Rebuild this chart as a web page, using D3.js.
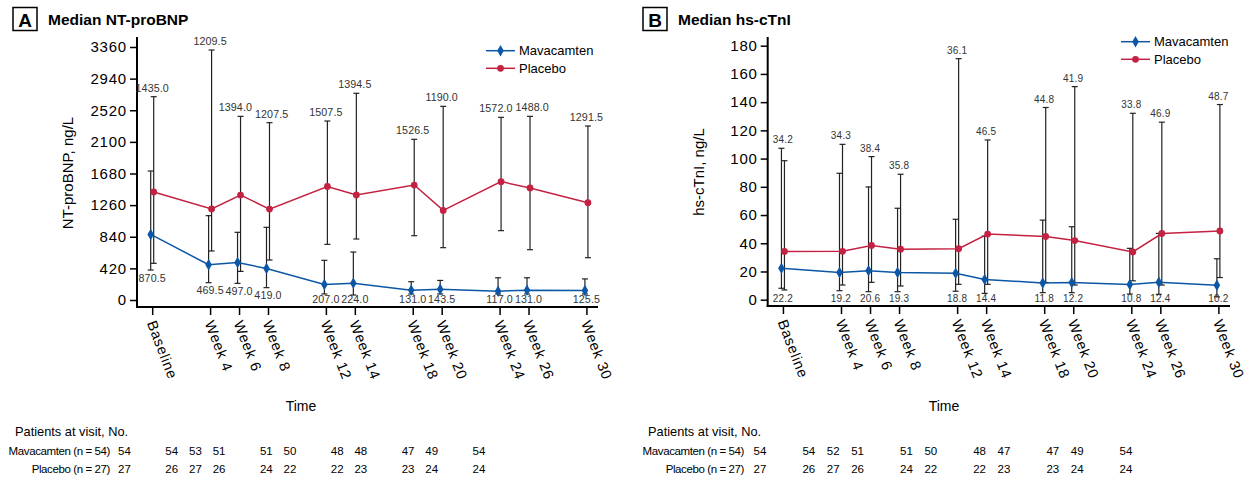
<!DOCTYPE html>
<html><head><meta charset="utf-8">
<script src="https://cdn.jsdelivr.net/npm/d3@7"></script>
<style>
body{margin:0;background:#fff;}
svg{display:block;font-family:"Liberation Sans",Arial,sans-serif;}
</style></head><body>
<svg id="c" width="1248" height="483"></svg>
<script>
// ---------- DATA ----------
const weeks = [0, 4, 6, 8, 12, 14, 18, 20, 24, 26, 30];
const weekLabels = ["Baseline", "Week 4", "Week 6", "Week 8", "Week 12", "Week 14", "Week 18", "Week 20", "Week 24", "Week 26", "Week 30"];
const seriesNames = ["Mavacamten", "Placebo"];

// Panel A: NT-proBNP (ng/L)
const ntYTicks = [0, 420, 840, 1260, 1680, 2100, 2520, 2940, 3360];
const ntMavaMedian = [870.5, 469.5, 497.0, 419.0, 207.0, 224.0, 131.0, 143.5, 117.0, 131.0, 125.5];
const ntMavaHigh   = [1713, 1120, 899, 965, 527, 637, 243, 260, 295, 295, 280];
const ntMavaLow    = [398, 230, 221, 164, 80, 66, 80, 80, 80, 80, 80];
const ntPlacMedian = [1435.0, 1209.5, 1394.0, 1207.5, 1507.5, 1394.5, 1526.5, 1190.0, 1572.0, 1488.0, 1291.5];
const ntPlacHigh   = [2700, 3320, 2439, 2355, 2377, 2745, 2134, 2572, 2426, 2439, 2311];
const ntPlacLow    = [487, 651, 380, 531, 739, 810, 854, 695, 921, 668, 562];
const ntMavaN = [54, 54, 53, 51, 51, 50, 48, 48, 47, 49, 54];
const ntPlacN = [27, 26, 27, 26, 24, 22, 22, 23, 23, 24, 24];

// Panel B: hs-cTnI (ng/L)
const tnYTicks = [0, 20, 40, 60, 80, 100, 120, 140, 160, 180];
const tnMavaMedian = [22.2, 19.2, 20.6, 19.3, 18.8, 14.4, 11.8, 12.2, 10.8, 12.4, 10.2];
const tnMavaHigh   = [107.3, 89.6, 79.9, 64.8, 57, 45, 56.4, 51.7, 36.4, 47, 29];
const tnMavaLow    = [8.1, 6.4, 5.7, 5.7, 6, 4.5, 5, 5, 4, 3.8, 2];
const tnPlacMedian = [34.2, 34.3, 38.4, 35.8, 36.1, 46.5, 44.8, 41.9, 33.8, 46.9, 48.7];
const tnPlacHigh   = [98.5, 110.1, 101.4, 88.9, 170.8, 113.2, 136.2, 151, 132.1, 125.8, 138.3];
const tnPlacLow    = [6.9, 10.4, 12.3, 9.7, 10.9, 10.9, 12.2, 10.4, 13.4, 10.4, 15.7];
const tnMavaN = [54, 54, 52, 51, 51, 50, 48, 47, 47, 49, 54];
const tnPlacN = [27, 26, 27, 26, 24, 22, 22, 23, 23, 24, 24];

// ---------- DRAW ----------
const svg = d3.select("#c");
const BLUE = "#0b57a6", RED = "#c32242", BAR = "#222";

function separate(nodes, gap) {
  // push apart neighbouring labels on the same row if they collide
  const items = nodes.map(n => ({n, x: +n.getAttribute("x"), y: +n.getAttribute("y"), w: n.getComputedTextLength()}));
  items.sort((a, b) => a.x - b.x);
  for (let pass = 0; pass < 4; pass++) {
    for (let i = 0; i < items.length - 1; i++) {
      const a = items[i], b = items[i + 1];
      if (Math.abs(a.y - b.y) > 9) continue;
      const over = (a.x + a.w / 2 + gap) - (b.x - b.w / 2);
      if (over > 0) { a.x -= over / 2; b.x += over / 2; }
    }
  }
  items.forEach(it => it.n.setAttribute("x", it.x));
}

function panel(p) {
  const g = svg.append("g");
  const x = d3.scaleLinear().domain([-1.05, 30.8]).range(p.xr);
  const y = d3.scaleLinear().domain([0, p.yMax]).range(p.yr);
  const xt = d3.scaleLinear().domain([0, 30]).range(p.tableRange);

  // letter box + title
  g.append("rect").attr("x", p.boxX).attr("y", 7.5).attr("width", 24).attr("height", 23)
    .attr("fill", "none").attr("stroke", "#000").attr("stroke-width", 1.5);
  g.append("text").attr("x", p.boxX + 12).attr("y", 26.5).attr("text-anchor", "middle")
    .attr("font-weight", "bold").attr("font-size", 19).text(p.letter);
  g.append("text").attr("x", p.boxX + 35).attr("y", 25).attr("font-weight", "bold")
    .attr("font-size", 15.5).text(p.title);

  // y axis
  const ya = g.append("g").attr("transform", `translate(${p.xr[0]},0)`)
    .call(d3.axisLeft(y).tickValues(p.yTicks).tickSize(7).tickPadding(3).tickFormat(d3.format("d")));
  ya.attr("font-size", null).attr("font-family", null);
  ya.select(".domain").remove();
  ya.selectAll(".tick line").attr("stroke", "#000").attr("stroke-width", 1.5);
  ya.selectAll(".tick text").attr("font-size", 15).attr("letter-spacing", 0.8).attr("fill", "#000");

  // x axis
  const xa = g.append("g").attr("transform", `translate(0,${p.axisY})`)
    .call(d3.axisBottom(x).tickValues(weeks).tickSize(8).tickFormat((d, i) => weekLabels[i]));
  xa.attr("font-size", null).attr("font-family", null);
  xa.select(".domain").remove();
  xa.selectAll(".tick line").attr("stroke", "#000").attr("stroke-width", 1.5);
  xa.selectAll(".tick text").attr("x", 0).attr("y", 0).attr("dy", 0)
    .attr("text-anchor", "start").attr("transform", "translate(-6,16) rotate(69)")
    .attr("font-size", 14.5).attr("letter-spacing", 0.7).attr("fill", "#000");

  // axis lines
  g.append("line").attr("x1", p.xr[0]).attr("x2", p.xr[0]).attr("y1", p.axisTop).attr("y2", p.axisY + 1)
    .attr("stroke", "#000").attr("stroke-width", 2);
  g.append("line").attr("x1", p.xr[0] - 1).attr("x2", p.xr[1]).attr("y1", p.axisY).attr("y2", p.axisY)
    .attr("stroke", "#000").attr("stroke-width", 2);

  // y axis title
  g.append("text").attr("transform", `translate(${p.yTitleX},${p.yTitleY}) rotate(-90)`)
    .attr("text-anchor", "middle").attr("font-size", 15).text(p.yTitle);

  const series = [
    {med: p.mMed, hi: p.mHi, lo: p.mLo, color: BLUE, off: -1.5, shape: "diamond"},
    {med: p.pMed, hi: p.pHi, lo: p.pLo, color: RED, off: 1.5, shape: "circle"}
  ];

  // error bars
  series.forEach(s => {
    const eb = g.append("g").attr("stroke", BAR).attr("stroke-width", 1.2);
    weeks.forEach((w, i) => {
      const cx = x(w) + s.off;
      eb.append("line").attr("x1", cx).attr("x2", cx).attr("y1", y(s.lo[i])).attr("y2", y(s.hi[i]));
      [s.lo[i], s.hi[i]].forEach(v => {
        eb.append("line").attr("x1", cx - 3).attr("x2", cx + 3).attr("y1", y(v)).attr("y2", y(v));
      });
    });
  });

  // lines + markers
  series.forEach(s => {
    const line = d3.line().x((d, i) => x(weeks[i]) + s.off).y(d => y(d));
    g.append("path").datum(s.med).attr("d", line).attr("fill", "none")
      .attr("stroke", s.color).attr("stroke-width", 1.5);
    s.med.forEach((v, i) => {
      const cx = x(weeks[i]) + s.off, cy = y(v);
      if (s.shape === "diamond") {
        g.append("path").attr("d", d3.symbol(d3.symbolDiamond, 38)())
          .attr("transform", `translate(${cx},${cy})`).attr("fill", s.color);
      } else {
        g.append("circle").attr("cx", cx).attr("cy", cy).attr("r", 3.4).attr("fill", s.color);
      }
    });
  });

  // value labels
  const topNodes = [], botNodes = [];
  weeks.forEach((w, i) => {
    const top = y(Math.max(p.mHi[i], p.pHi[i]));
    topNodes.push(g.append("text").attr("x", x(w)).attr("y", top - 5).attr("text-anchor", "middle")
      .attr("font-size", p.labFont).attr("letter-spacing", p.labSp).attr("fill", "#333")
      .text(p.pMed[i].toFixed(1)).node());
    const bot = Math.min(y(Math.min(p.mLo[i], p.pLo[i])) + 8, p.axisY - 8);
    botNodes.push(g.append("text").attr("x", x(w)).attr("y", bot + 3.7).attr("text-anchor", "middle")
      .attr("font-size", p.labFont).attr("letter-spacing", p.labSp).attr("fill", "#333")
      .text(p.mMed[i].toFixed(1)).node());
  });
  separate(topNodes, 3);
  separate(botNodes, 1.5);

  // legend
  [{c: BLUE, s: "diamond"}, {c: RED, s: "circle"}].forEach((l, k) => {
    const ly = p.legY + k * 17.6;
    g.append("line").attr("x1", p.legX).attr("x2", p.legX + 29).attr("y1", ly).attr("y2", ly)
      .attr("stroke", l.c).attr("stroke-width", 1.5);
    if (l.s === "diamond") {
      g.append("path").attr("d", d3.symbol(d3.symbolDiamond, 38)())
        .attr("transform", `translate(${p.legX + 14.5},${ly})`).attr("fill", l.c);
    } else {
      g.append("circle").attr("cx", p.legX + 14.5).attr("cy", ly).attr("r", 3.4).attr("fill", l.c);
    }
    g.append("text").attr("x", p.legX + 33).attr("y", ly + 4.6).attr("font-size", 13)
      .text(seriesNames[k]);
  });

  // Time label
  g.append("text").attr("x", p.timeX).attr("y", 411).attr("text-anchor", "middle")
    .attr("font-size", 14).text("Time");

  // patients table
  g.append("text").attr("x", p.patX).attr("y", 435.5).attr("font-size", 12.8).text("Patients at visit, No.");
  g.append("text").attr("x", p.rowRight).attr("y", 455).attr("text-anchor", "end")
    .attr("font-size", 11.5).attr("letter-spacing", -0.4).text("Mavacamten (n = 54)");
  g.append("text").attr("x", p.rowRight).attr("y", 473).attr("text-anchor", "end")
    .attr("font-size", 11.5).attr("letter-spacing", -0.4).text("Placebo (n = 27)");
  weeks.forEach((w, i) => {
    g.append("text").attr("x", xt(w)).attr("y", 455).attr("text-anchor", "middle")
      .attr("font-size", 11.5).text(p.mN[i]);
    g.append("text").attr("x", xt(w)).attr("y", 473).attr("text-anchor", "middle")
      .attr("font-size", 11.5).text(p.pN[i]);
  });
}

panel({
  letter: "A", title: "Median NT-proBNP", boxX: 13,
  xr: [137, 598], yr: [300, 47], yMax: 3360, yTicks: ntYTicks, axisTop: 37, axisY: 307,
  yTitle: "NT-proBNP, ng/L", yTitleX: 73, yTitleY: 173,
  mMed: ntMavaMedian, mHi: ntMavaHigh, mLo: ntMavaLow,
  pMed: ntPlacMedian, pHi: ntPlacHigh, pLo: ntPlacLow,
  labFont: 10.7, labSp: 0.1,
  legX: 486, legY: 50.7, timeX: 301, patX: 15, rowRight: 110,
  tableRange: [124.5, 479], mN: ntMavaN, pN: ntPlacN
});

panel({
  letter: "B", title: "Median hs-cTnI", boxX: 643,
  xr: [767.7, 1230], yr: [299.7, 45.7], yMax: 180, yTicks: tnYTicks, axisTop: 37, axisY: 306,
  yTitle: "hs-cTnI, ng/L", yTitleX: 704, yTitleY: 172,
  mMed: tnMavaMedian, mHi: tnMavaHigh, mLo: tnMavaLow,
  pMed: tnPlacMedian, pHi: tnPlacHigh, pLo: tnPlacLow,
  labFont: 10, labSp: 0.2,
  legX: 1121, legY: 41.7, timeX: 944, patX: 648, rowRight: 744,
  tableRange: [760, 1126], mN: tnMavaN, pN: tnPlacN
});
</script></body></html>
